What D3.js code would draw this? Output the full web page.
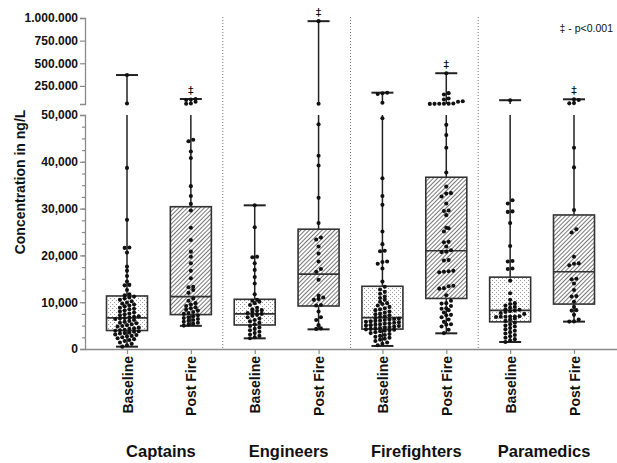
<!DOCTYPE html>
<html>
<head>
<meta charset="utf-8">
<script src="https://cdnjs.cloudflare.com/ajax/libs/d3/7.8.5/d3.min.js"></script>
<style>
body { margin: 0; background: #fff; }
svg { font-family: "Liberation Sans", Arial, sans-serif; }
</style>
</head>
<body>
<script>
// groups and time points
var groups = ["Captains", "Engineers", "Firefighters", "Paramedics"];
var categories = ["Captains Baseline", "Captains Post Fire", "Engineers Baseline", "Engineers Post Fire",
                  "Firefighters Baseline", "Firefighters Post Fire", "Paramedics Baseline", "Paramedics Post Fire"];
var tickLabels = ["Baseline", "Post Fire", "Baseline", "Post Fire", "Baseline", "Post Fire", "Baseline", "Post Fire"];

// box stats (ng/L)
var mins    = [500,    4950,   2280,  4200,   650,    3350,   1500,  5850];
var q1s     = [3950,   7350,   5130,  9190,   4250,   10800,  5800,  9600];
var medians = [6650,   11200,  7500,  16000,  6700,   21000,  8250,  16500];
var q3s     = [11330,  30400,  10620, 25600,  13400,  36700,  15350, 28640];
var maxs    = [370000, 105000, 30700, 965000, 175000, 390000, 92000, 102000];
var significant = [false, true, false, true, false, true, false, true];

// individual samples
var captainsBaseline = [370000, 55000, 38700, 27600, 21700, 21600, 20600, 17600, 16700, 15600, 14400, 13700, 13600, 12600, 11700, 11500, 11200,
  11000, 10800, 10500, 10200, 9900, 9700, 9500, 9300, 9100, 8800, 8600, 8500, 8200, 8000, 7800, 7600, 7400, 7200, 7000, 6900, 6800,
  6600, 6500, 6400, 6200, 6000, 5800, 5600, 5500, 5300, 5100, 4900, 4800, 4600, 4400, 4300, 4100, 4000,
  3900, 3800, 3700, 3500, 3400, 3300, 3100, 3000, 2800, 2700, 2500, 2300, 2100, 1900, 1700, 1400, 1100, 800, 500];
var captainsPostFire = [105000, 100000, 95000, 75000, 55000, 52000, 44700, 44400, 42200, 40800, 34800, 32700, 31000,
  29600, 25900, 23300, 20800, 19700, 18300, 16700, 15100, 13300, 13200, 12600, 12000,
  10800, 10300, 9800, 9500, 9200, 8900, 8700, 8400, 8200, 7900, 7700, 7500,
  7200, 7000, 6800, 6600, 6400, 6200, 6000, 5800, 5600, 5400, 5200, 5000];
var engineersBaseline = [30700, 26000, 19700, 19600, 18300, 16900, 15400, 14000, 11700,
  10500, 10300, 10100, 9800, 9400, 8800, 8500, 8300, 8100, 7900, 7700, 7500, 7300, 7100, 6800, 6500, 6200, 5900, 5600, 5300,
  4900, 4600, 4300, 4000, 3700, 3400, 3100, 2800, 2500, 2300];
var engineersPostFire = [965000, 52000, 48000, 41300, 39200, 32300, 26900,
  23800, 23400, 21900, 20400, 18700, 17100, 16500, 14800, 11400, 11000, 10700, 10500, 9400, 9300,
  8000, 6800, 6200, 5100, 4400, 4300];
var firefightersBaseline = [175000, 168000, 160000, 64000, 49300, 36500, 32700, 30800, 25100, 22400, 21000, 20900, 18700, 18600, 18200, 17200, 14400, 13300,
  12700, 12200, 11800, 11200, 10900, 10500, 10100, 9800, 9600, 9300, 9000, 8700, 8500, 8300, 8000, 7800, 7600, 7400, 7200, 7000, 6900,
  6600, 6500, 6400, 6300, 6200, 6100, 6000, 5900, 5800, 5700, 5600, 5500, 5400, 5300, 5200, 5100, 5000, 4900, 4800, 4700, 4600, 4500, 4400, 4300,
  4200, 4100, 4000, 3900, 3800, 3600, 3400, 3200, 3000, 2800, 2600, 2400, 2200, 2000, 1700, 1400, 1100, 800];
var firefightersPostFire = [390000, 170000, 155000, 110000, 100000, 80000, 75000, 55000, 54000, 53000, 52000, 51500, 51000, 47900, 45700, 43000, 37700,
  34700, 33300, 33200, 32600, 31100, 29600, 29500, 28600, 25900, 25800, 25100, 22900, 22800, 21900, 21100,
  20800, 20700, 19000, 18900, 16700, 16600, 16500, 16400, 13500, 13400, 13000, 12900, 11500,
  10300, 9800, 9700, 9200, 8700, 8600, 8300, 7800, 7300, 7200, 6800, 6300, 5800, 5300, 5200, 4800, 4100, 3400];
var paramedicsBaseline = [92000, 31800, 31100, 29400, 29300, 26900, 22000, 18800, 18700, 17200, 17100,
  14600, 11900, 10500, 9800, 9600, 9300, 9000, 8800, 8500, 8400, 8200, 8100, 7900, 7700, 7500,
  7000, 6950, 6920, 6900, 6880, 6850, 6500, 6300, 6000,
  5600, 5300, 5000, 4800, 4500, 4200, 3900, 3600, 3300, 3000, 2700, 2400, 2100, 1800, 1500];
var paramedicsPostFire = [102000, 94000, 60000, 57000, 43000, 38800, 29700,
  25600, 24900, 19700, 18300, 18200, 17900, 15000, 14900, 14000, 12600, 11300, 11200, 10100,
  9000, 8300, 8200, 7300, 6300, 5900, 5850];
var points = [captainsBaseline, captainsPostFire, engineersBaseline, engineersPostFire,
              firefightersBaseline, firefightersPostFire, paramedicsBaseline, paramedicsPostFire];

var W = 617, H = 463;
var axisX = 85, baseY = 349;

var svg = d3.select("body").append("svg")
    .attr("width", W)
    .attr("height", H);

var defs = svg.append("defs");
var stipple = defs.append("pattern").attr("id", "stipple")
    .attr("patternUnits", "userSpaceOnUse").attr("width", 4).attr("height", 4);
stipple.append("rect").attr("width", 4).attr("height", 4).attr("fill", "#fff");
stipple.append("rect").attr("x", 0).attr("y", 0).attr("width", 1).attr("height", 1).attr("fill", "#999");
stipple.append("rect").attr("x", 2).attr("y", 2).attr("width", 1).attr("height", 1).attr("fill", "#999");

var hatch = defs.append("pattern").attr("id", "hatch")
    .attr("patternUnits", "userSpaceOnUse").attr("width", 3).attr("height", 3)
    .attr("patternTransform", "rotate(45)");
hatch.append("rect").attr("width", 3).attr("height", 3).attr("fill", "#fff");
hatch.append("line").attr("x1", 0.5).attr("y1", 0).attr("x2", 0.5).attr("y2", 3)
    .attr("stroke", "#777").attr("stroke-width", 1);

// scales: broken y axis
var x = d3.scalePoint().domain(categories).range([127, 574]);
var yLow = d3.scaleLinear().domain([0, 50000]).range([baseY, 115]);
var yHigh = d3.scaleLinear().domain([50000, 1000000]).range([104, 18]);
function y(v) { return v <= 50000 ? yLow(v) : yHigh(v); }

var boxW = 41, capW = 22;

// separators between groups
[1, 3, 5].forEach(function(i) {
    var sx = (x(categories[i]) + x(categories[i + 1])) / 2;
    svg.append("line")
        .attr("x1", sx).attr("x2", sx).attr("y1", 17).attr("y2", baseY)
        .attr("stroke", "#777").attr("stroke-width", 1).attr("stroke-dasharray", "1,2");
});

// axes
var fmtDot = d3.formatLocale({decimal: ",", thousands: ".", grouping: [3], currency: ["", ""]}).format(",");

function styleAxis(g) {
    g.selectAll(".domain").attr("stroke", "#8a8a8a").attr("stroke-width", 1.3);
    g.selectAll(".tick line").attr("stroke", "#8a8a8a").attr("stroke-width", 1.2);
    g.selectAll(".tick text").attr("fill", "#111").style("font-weight", "bold").style("font-size", "12px");
}

svg.append("g")
    .attr("transform", "translate(" + axisX + ",0)")
    .call(d3.axisLeft(yLow).tickValues(d3.range(2500, 50000, 2500)).tickSize(3).tickFormat(""))
    .call(function(g) { g.select(".domain").remove(); })
    .call(styleAxis);

svg.append("g")
    .attr("transform", "translate(" + axisX + ",0)")
    .call(d3.axisLeft(yLow).tickValues(d3.range(0, 50001, 10000)).tickSize(5).tickSizeOuter(5).tickPadding(2).tickFormat(d3.format(",")))
    .call(styleAxis);

svg.append("g")
    .attr("transform", "translate(" + axisX + ",0)")
    .call(d3.axisLeft(yHigh).tickValues([250000, 500000, 750000, 1000000]).tickSize(5).tickSizeOuter(5).tickPadding(2).tickFormat(fmtDot))
    .call(styleAxis);

var xAxis = svg.append("g")
    .attr("transform", "translate(0," + baseY + ")")
    .call(d3.axisBottom(x).tickSize(5).tickSizeOuter(0).tickFormat(function(d, i) { return tickLabels[i]; }))
    .call(styleAxis);
xAxis.select(".domain").attr("d", "M" + axisX + ",0.5H" + W);
xAxis.selectAll(".tick text")
    .style("font-size", "14px")
    .attr("transform", "rotate(-90)")
    .attr("text-anchor", "end")
    .attr("x", -7).attr("y", 0).attr("dy", "0.36em");

// y title
svg.append("text")
    .attr("transform", "translate(25,182) rotate(-90)")
    .attr("text-anchor", "middle")
    .style("font-weight", "bold").style("font-size", "14px").attr("fill", "#111")
    .text("Concentration in ng/L");

// group labels
groups.forEach(function(g, i) {
    var gx = (x(categories[2 * i]) + x(categories[2 * i + 1])) / 2 + 2;
    svg.append("text")
        .attr("x", gx).attr("y", 457)
        .attr("text-anchor", "middle")
        .style("font-weight", "bold").style("font-size", "16.5px").attr("fill", "#111")
        .text(g);
});

// boxes
var boxes = svg.append("g").selectAll("g.box")
    .data(categories)
    .enter().append("g").attr("class", "box");

boxes.each(function(d, i) {
    var g = d3.select(this), cx = x(d);
    // whiskers (broken at the axis gap)
    var segs = [];
    if (maxs[i] > 50000) {
        segs.push([yHigh(maxs[i]), yHigh(50000)]);
        segs.push([yLow(50000), yLow(mins[i])]);
    } else {
        segs.push([yLow(maxs[i]), yLow(mins[i])]);
    }
    segs.forEach(function(s) {
        g.append("line").attr("x1", cx).attr("x2", cx).attr("y1", s[0]).attr("y2", s[1])
            .attr("stroke", "#222").attr("stroke-width", 1.5);
    });
    [maxs[i], mins[i]].forEach(function(v) {
        g.append("line").attr("x1", cx - capW / 2).attr("x2", cx + capW / 2)
            .attr("y1", y(v)).attr("y2", y(v))
            .attr("stroke", "#222").attr("stroke-width", 2);
    });
    g.append("rect")
        .attr("x", cx - boxW / 2).attr("width", boxW)
        .attr("y", yLow(q3s[i])).attr("height", yLow(q1s[i]) - yLow(q3s[i]))
        .attr("fill", i % 2 ? "url(#hatch)" : "url(#stipple)")
        .attr("stroke", "#333").attr("stroke-width", 1.6);
    g.append("line")
        .attr("x1", cx - boxW / 2).attr("x2", cx + boxW / 2)
        .attr("y1", yLow(medians[i])).attr("y2", yLow(medians[i]))
        .attr("stroke", "#333").attr("stroke-width", 1.6);
    if (significant[i]) {
        g.append("text")
            .attr("x", cx).attr("y", y(maxs[i]) - 5)
            .attr("text-anchor", "middle")
            .style("font-family", "'DejaVu Sans', sans-serif")
            .style("font-size", "11px").attr("fill", "#000")
            .text("\u2021");
    }
});

// scatter rows, Prism style
function swarm(vals, cx) {
    var pts = vals.map(function(v) { return {v: v, py: y(v)}; })
        .sort(function(a, b) { return b.py - a.py; });
    var rows = [], cur = null;
    pts.forEach(function(p) {
        if (!cur || cur.y0 - p.py > 3.6) { cur = {y0: p.py, items: []}; rows.push(cur); }
        cur.items.push(p);
    });
    rows.forEach(function(r) {
        var k = r.items.length;
        r.items.forEach(function(p, j) { p.px = cx + (j - (k - 1) / 2) * 4.7; });
    });
    return pts;
}

categories.forEach(function(d, i) {
    svg.append("g").selectAll("circle")
        .data(swarm(points[i], x(d)))
        .enter().append("circle")
        .attr("cx", function(p) { return p.px; })
        .attr("cy", function(p) { return p.py; })
        .attr("r", 2.05)
        .attr("fill", "#111");
});

// significance note
svg.append("text")
    .attr("x", 613).attr("y", 32)
    .attr("text-anchor", "end")
    .style("font-size", "10.5px").attr("fill", "#111")
    .text("\u2021 - p<0.001");
</script>
</body>
</html>
